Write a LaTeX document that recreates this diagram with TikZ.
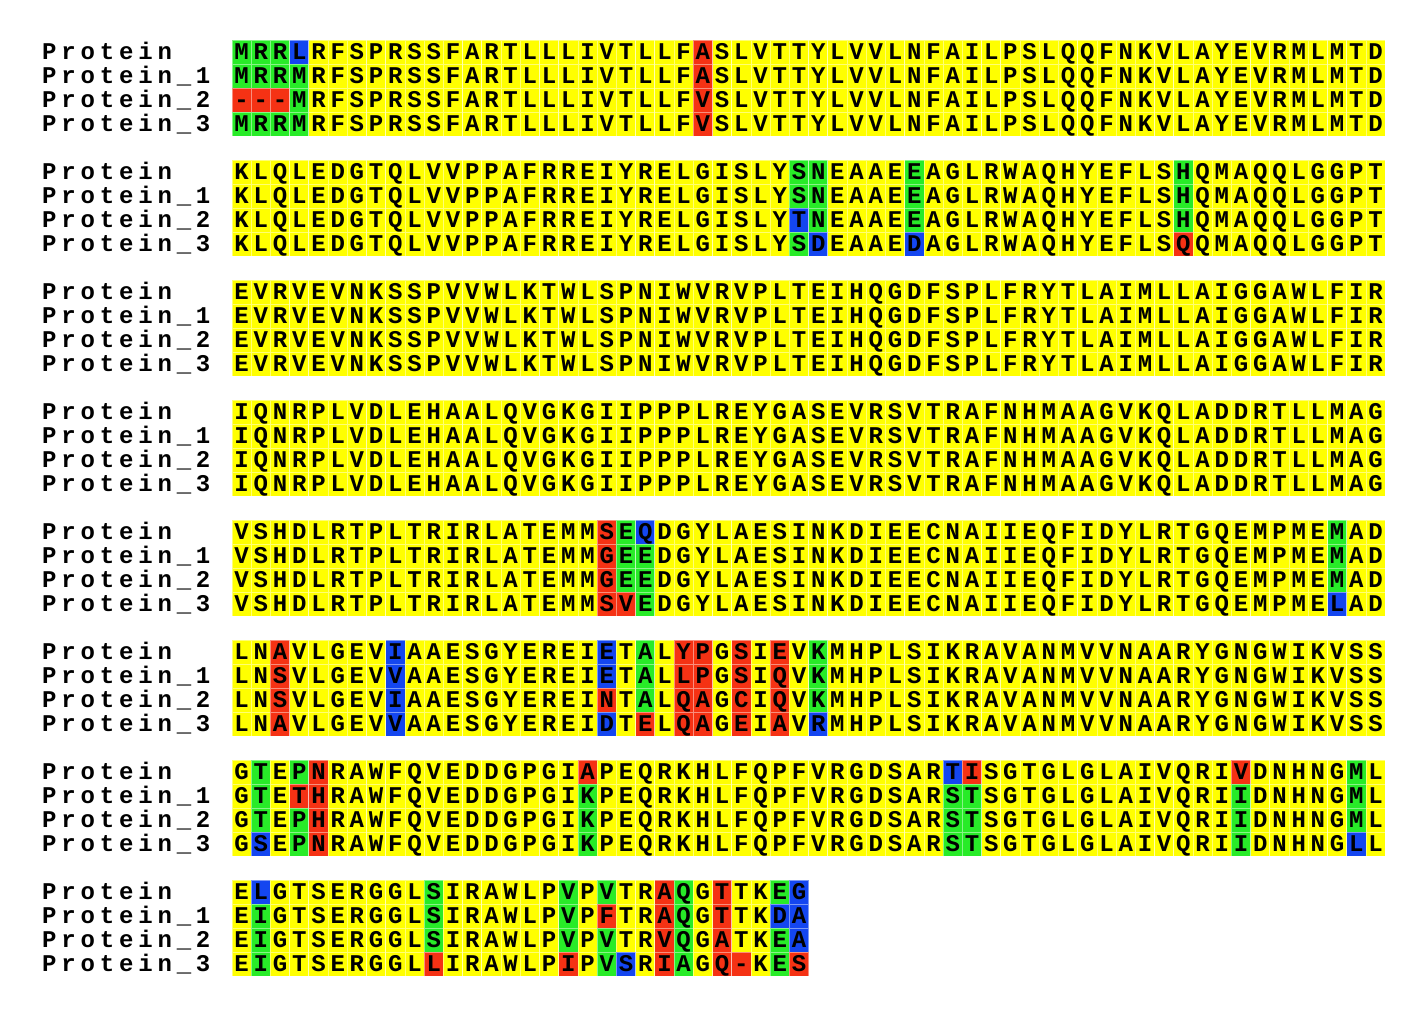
\documentclass[tikz,border=0pt]{standalone}
\usepackage{fontspec}
\setmonofont{Liberation Mono}
\definecolor{hly}{RGB}{255,255,0}
\definecolor{hlg}{RGB}{40,235,40}
\definecolor{hlr}{RGB}{245,50,20}
\definecolor{hlb}{RGB}{20,70,240}
\tikzset{
  cell/.style={draw=white,draw opacity=.45,line width=.4pt},
  res/.style={inner sep=0pt,outer sep=0pt,anchor=base,text=black,font=\ttfamily\bfseries\fontsize{12}{14.4}\selectfont},
}
\newcount\rescol
\def\cellw{19.22}
\def\sethl#1#2#3#4{\expandafter\def\csname hl#1-#2-#3\endcsname{hl#4}}
\def\hlcol#1#2#3#4#5#6{\sethl{#1}{0}{#2}{#3}\sethl{#1}{1}{#2}{#4}\sethl{#1}{2}{#2}{#5}\sethl{#1}{3}{#2}{#6}}
\def\nextres#1{\ifx#1\relax\else\advance\rescol by 1 \putchar{#1}\expandafter\nextres\fi}
\def\putres#1{%
  \ifcsname hl\curblk-\currow-\the\rescol\endcsname
    \edef\cellclr{\csname hl\curblk-\currow-\the\rescol\endcsname}%
  \else
    \def\cellclr{hly}%
  \fi
  \path[cell,fill=\cellclr] ({232+(\the\rescol-1)*\cellw},{40+\curblk*120+\currow*24}) rectangle ++(\cellw,24);
  \node[res] (r\curblk-\currow-\the\rescol) at ({232+(\the\rescol-.5)*\cellw},{59+\curblk*120+\currow*24}) {#1};}
\def\putlabel#1{%
  \node[res] (l\curblk-\currow-\the\numexpr\rescol+10\relax) at ({232+(\the\rescol-.5)*\cellw},{59+\curblk*120+\currow*24}) {#1};}
\def\resrow#1#2#3#4{\def\curblk{#1}\def\currow{#2}%
  \rescol=-10 \let\putchar\putlabel\nextres#3\relax
  \rescol=0 \let\putchar\putres\nextres#4\relax}
% coloured columns: block, column, then the four rows
\hlcol{0}{1}{g}{g}{r}{g}
\hlcol{0}{2}{g}{g}{r}{g}
\hlcol{0}{3}{g}{g}{r}{g}
\hlcol{0}{4}{b}{g}{g}{g}
\hlcol{0}{25}{r}{r}{r}{r}
\hlcol{1}{30}{g}{g}{b}{g}
\hlcol{1}{31}{g}{g}{g}{b}
\hlcol{1}{36}{g}{g}{g}{b}
\hlcol{1}{50}{g}{g}{g}{r}
\hlcol{4}{20}{r}{r}{r}{r}
\hlcol{4}{21}{g}{g}{g}{r}
\hlcol{4}{22}{b}{g}{g}{g}
\hlcol{4}{58}{g}{g}{g}{b}
\hlcol{5}{3}{r}{r}{r}{r}
\hlcol{5}{9}{b}{b}{b}{b}
\hlcol{5}{20}{b}{b}{r}{b}
\hlcol{5}{22}{g}{g}{g}{r}
\hlcol{5}{24}{r}{r}{r}{r}
\hlcol{5}{25}{r}{r}{r}{r}
\hlcol{5}{27}{r}{r}{r}{r}
\hlcol{5}{29}{r}{r}{r}{r}
\hlcol{5}{31}{g}{g}{g}{b}
\hlcol{6}{2}{g}{g}{g}{b}
\hlcol{6}{4}{g}{r}{g}{g}
\hlcol{6}{5}{r}{r}{r}{r}
\hlcol{6}{19}{r}{g}{g}{g}
\hlcol{6}{38}{b}{g}{g}{g}
\hlcol{6}{39}{r}{g}{g}{g}
\hlcol{6}{53}{r}{g}{g}{g}
\hlcol{6}{59}{g}{g}{g}{b}
\hlcol{7}{2}{b}{g}{g}{g}
\hlcol{7}{11}{g}{g}{g}{r}
\hlcol{7}{18}{g}{g}{g}{r}
\hlcol{7}{20}{g}{r}{g}{g}
\hlcol{7}{21}{y}{y}{y}{b}
\hlcol{7}{23}{r}{r}{r}{r}
\hlcol{7}{24}{g}{g}{g}{g}
\hlcol{7}{26}{r}{r}{r}{r}
\hlcol{7}{27}{y}{y}{y}{r}
\hlcol{7}{29}{g}{b}{g}{g}
\hlcol{7}{30}{b}{b}{b}{r}
\begin{document}
\begin{tikzpicture}[x=.5pt,y=-.5pt]
\path[use as bounding box,fill=white] (0,0) rectangle (1424,1008);
\resrow{0}{0}{Protein}{MRRLRFSPRSSFARTLLLIVTLLFASLVTTYLVVLNFAILPSLQQFNKVLAYEVRMLMTD}
\resrow{0}{1}{Protein\_1}{MRRMRFSPRSSFARTLLLIVTLLFASLVTTYLVVLNFAILPSLQQFNKVLAYEVRMLMTD}
\resrow{0}{2}{Protein\_2}{---MRFSPRSSFARTLLLIVTLLFVSLVTTYLVVLNFAILPSLQQFNKVLAYEVRMLMTD}
\resrow{0}{3}{Protein\_3}{MRRMRFSPRSSFARTLLLIVTLLFVSLVTTYLVVLNFAILPSLQQFNKVLAYEVRMLMTD}
\resrow{1}{0}{Protein}{KLQLEDGTQLVVPPAFRREIYRELGISLYSNEAAEEAGLRWAQHYEFLSHQMAQQLGGPT}
\resrow{1}{1}{Protein\_1}{KLQLEDGTQLVVPPAFRREIYRELGISLYSNEAAEEAGLRWAQHYEFLSHQMAQQLGGPT}
\resrow{1}{2}{Protein\_2}{KLQLEDGTQLVVPPAFRREIYRELGISLYTNEAAEEAGLRWAQHYEFLSHQMAQQLGGPT}
\resrow{1}{3}{Protein\_3}{KLQLEDGTQLVVPPAFRREIYRELGISLYSDEAAEDAGLRWAQHYEFLSQQMAQQLGGPT}
\resrow{2}{0}{Protein}{EVRVEVNKSSPVVWLKTWLSPNIWVRVPLTEIHQGDFSPLFRYTLAIMLLAIGGAWLFIR}
\resrow{2}{1}{Protein\_1}{EVRVEVNKSSPVVWLKTWLSPNIWVRVPLTEIHQGDFSPLFRYTLAIMLLAIGGAWLFIR}
\resrow{2}{2}{Protein\_2}{EVRVEVNKSSPVVWLKTWLSPNIWVRVPLTEIHQGDFSPLFRYTLAIMLLAIGGAWLFIR}
\resrow{2}{3}{Protein\_3}{EVRVEVNKSSPVVWLKTWLSPNIWVRVPLTEIHQGDFSPLFRYTLAIMLLAIGGAWLFIR}
\resrow{3}{0}{Protein}{IQNRPLVDLEHAALQVGKGIIPPPLREYGASEVRSVTRAFNHMAAGVKQLADDRTLLMAG}
\resrow{3}{1}{Protein\_1}{IQNRPLVDLEHAALQVGKGIIPPPLREYGASEVRSVTRAFNHMAAGVKQLADDRTLLMAG}
\resrow{3}{2}{Protein\_2}{IQNRPLVDLEHAALQVGKGIIPPPLREYGASEVRSVTRAFNHMAAGVKQLADDRTLLMAG}
\resrow{3}{3}{Protein\_3}{IQNRPLVDLEHAALQVGKGIIPPPLREYGASEVRSVTRAFNHMAAGVKQLADDRTLLMAG}
\resrow{4}{0}{Protein}{VSHDLRTPLTRIRLATEMMSEQDGYLAESINKDIEECNAIIEQFIDYLRTGQEMPMEMAD}
\resrow{4}{1}{Protein\_1}{VSHDLRTPLTRIRLATEMMGEEDGYLAESINKDIEECNAIIEQFIDYLRTGQEMPMEMAD}
\resrow{4}{2}{Protein\_2}{VSHDLRTPLTRIRLATEMMGEEDGYLAESINKDIEECNAIIEQFIDYLRTGQEMPMEMAD}
\resrow{4}{3}{Protein\_3}{VSHDLRTPLTRIRLATEMMSVEDGYLAESINKDIEECNAIIEQFIDYLRTGQEMPMELAD}
\resrow{5}{0}{Protein}{LNAVLGEVIAAESGYEREIETALYPGSIEVKMHPLSIKRAVANMVVNAARYGNGWIKVSS}
\resrow{5}{1}{Protein\_1}{LNSVLGEVVAAESGYEREIETALLPGSIQVKMHPLSIKRAVANMVVNAARYGNGWIKVSS}
\resrow{5}{2}{Protein\_2}{LNSVLGEVIAAESGYEREINTALQAGCIQVKMHPLSIKRAVANMVVNAARYGNGWIKVSS}
\resrow{5}{3}{Protein\_3}{LNAVLGEVVAAESGYEREIDTELQAGEIAVRMHPLSIKRAVANMVVNAARYGNGWIKVSS}
\resrow{6}{0}{Protein}{GTEPNRAWFQVEDDGPGIAPEQRKHLFQPFVRGDSARTISGTGLGLAIVQRIVDNHNGML}
\resrow{6}{1}{Protein\_1}{GTETHRAWFQVEDDGPGIKPEQRKHLFQPFVRGDSARSTSGTGLGLAIVQRIIDNHNGML}
\resrow{6}{2}{Protein\_2}{GTEPHRAWFQVEDDGPGIKPEQRKHLFQPFVRGDSARSTSGTGLGLAIVQRIIDNHNGML}
\resrow{6}{3}{Protein\_3}{GSEPNRAWFQVEDDGPGIKPEQRKHLFQPFVRGDSARSTSGTGLGLAIVQRIIDNHNGLL}
\resrow{7}{0}{Protein}{ELGTSERGGLSIRAWLPVPVTRAQGTTKEG}
\resrow{7}{1}{Protein\_1}{EIGTSERGGLSIRAWLPVPFTRAQGTTKDA}
\resrow{7}{2}{Protein\_2}{EIGTSERGGLSIRAWLPVPVTRVQGATKEA}
\resrow{7}{3}{Protein\_3}{EIGTSERGGLLIRAWLPIPVSRIAGQ-KES}
\end{tikzpicture}
\end{document}
